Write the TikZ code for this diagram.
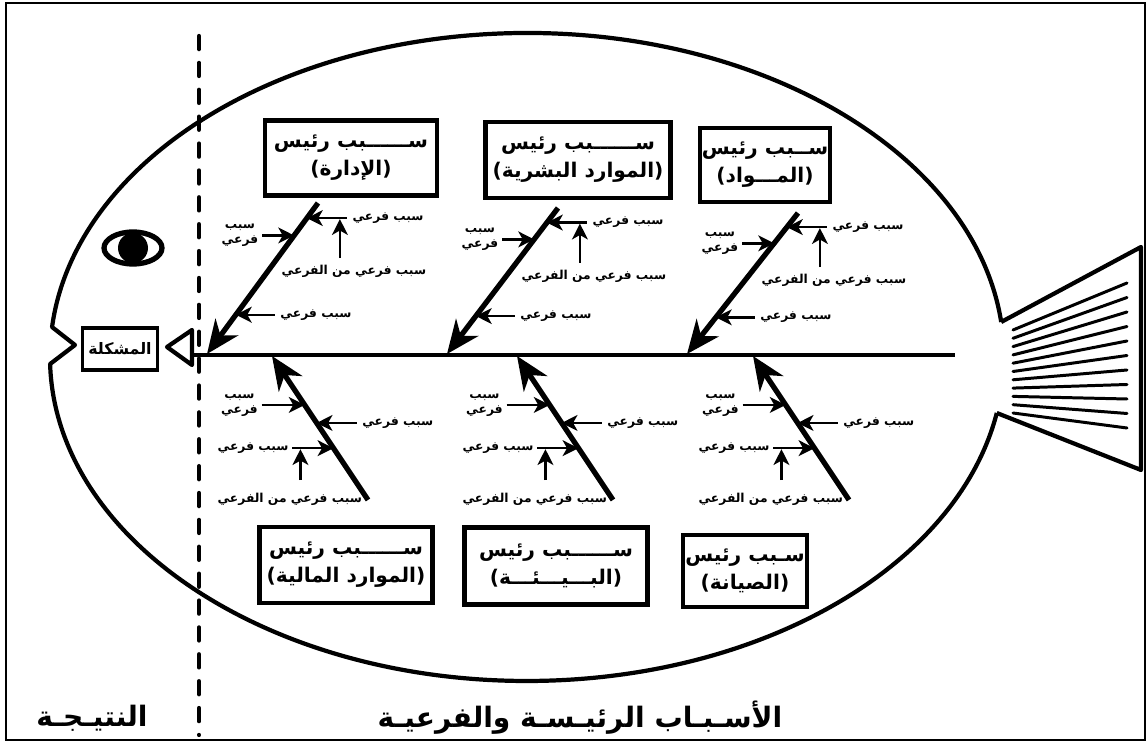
\documentclass[tikz,border=0pt]{standalone}
\usepackage{fontspec}
\newfontfamily\arabicfont[Script=Arabic]{DejaVu Sans}
\TeXXeTstate=1
\usetikzlibrary{arrows.meta,calc,positioning}
\newcommand{\ar}[1]{\beginR #1\endR}
\newcommand{\pxu}{0.569pt}

\tikzset{
  frame/.style={line width=1.1pt},
  body/.style={line width=2.4pt, line join=round},
  spine/.style={line width=2.6pt},
  cut/.style={line width=2.4pt, line cap=round, dash pattern=on 7.5pt off 7.8pt},
  bone/.style={line width=3pt, -{Stealth[length=19pt,width=16pt,inset=6pt]}},
  twig/.style={line width=1.4pt, -{Stealth[length=9pt,width=9pt,inset=2.5pt]}},
  ray/.style={line width=1.7pt, line cap=round},
  causebox/.style={draw, line width=2.4pt, inner sep=1pt, align=center,
    font=\arabicfont\bfseries\fontsize{11.5}{16}\selectfont},
  lbl/.style={inner sep=1pt, align=center,
    font=\arabicfont\bfseries\fontsize{7}{8.5}\selectfont},
  title/.style={font=\arabicfont\bfseries\fontsize{16}{18}\selectfont},
}

\begin{document}
\begin{tikzpicture}[x=0.02cm, y=-0.02cm]
  \useasboundingbox (0,0) rectangle (1147,742);
  \draw[frame] (6,3) rectangle (1145,740);

  % body of the fish, with the mouth notch
  \draw[body] (1001.2,322) arc[start angle=-6.2, end angle=-174.7, x radius=477, y radius=324]
    -- (75,345) -- (50.1,364)
    arc[start angle=178.76, end angle=9.95, x radius=477, y radius=324];
  % tail
  \draw[body] (1001.2,322) -- (1141,247) -- (1141,470) -- (996.8,413);
  \foreach \i in {0,...,10}
    \draw[ray] (1013,330+\i*8.3) -- (1127,283+\i*14.5);

  % eye
  \coordinate (eye) at (133,248);
  \draw[line width=3pt] (eye) ellipse[x radius=29, y radius=16];
  \fill (eye) circle[radius=15];

  % head
  \node[draw, line width=2.2pt, minimum width=75*\pxu, minimum height=42*\pxu,
    font=\arabicfont\bfseries\fontsize{9}{10}\selectfont] (problem) at (120,349) {\ar{المشكلة}};
  \draw[body] (167,347) -- (192,330) -- (192,365) -- cycle;

  % result / causes divider
  \coordinate (cutT) at (199,36);
  \coordinate (cutB) at (199,735);
  \draw[cut] (cutT) -- (cutB);

  % spine
  \coordinate (spineL) at (194,355);
  \coordinate (spineR) at (955,355);
  \draw[spine] (spineL) -- (spineR);

  % main causes
  \node[causebox, minimum width=172*\pxu, minimum height=75*\pxu] (mgmt) at (351,158)
    {\ar{ســــــبب رئيس}\\\ar{(الإدارة)}};
  \node[causebox, minimum width=185*\pxu, minimum height=76*\pxu] (hr) at (578,160)
    {\ar{ســــــبب رئيس}\\\ar{(الموارد البشرية)}};
  \node[causebox, minimum width=125*\pxu, minimum height=74*\pxu] (mat) at (765,165)
    {\ar{ســبب رئيس}\\\ar{(المـــواد)}};
  \node[causebox, minimum width=173*\pxu, minimum height=76*\pxu] (fin) at (346,565)
    {\ar{ســــــبب رئيس}\\\ar{(الموارد المالية)}};
  \node[causebox, minimum width=183*\pxu, minimum height=77*\pxu] (env) at (556,566)
    {\ar{ســــــبب رئيس}\\\ar{(البـــيـــئـــة)}};
  \node[causebox, minimum width=124*\pxu, minimum height=72*\pxu] (mnt) at (745,571)
    {\ar{سـبب رئيس}\\\ar{(الصيانة)}};

  % upper bones
  \foreach \n/\tx/\ty in {1/318/203, 2/558/208, 3/798/213}{
    \coordinate (t\n) at (\tx,\ty);
    \coordinate (e\n) at (\tx-111,354);
    \draw[bone] (t\n) -- (e\n);
    \coordinate (ta\n) at ($(t\n)!0.215!(e\n)$);
    \coordinate (fa\n) at ($(ta\n)+(-32,0)$);
    \draw[twig] (fa\n) -- (ta\n);
    \node[lbl, left=1pt of fa\n] {\ar{سبب}\\\ar{فرعي}};
    \coordinate (tb\n) at ($(t\n)!0.10!(e\n)$);
    \coordinate (fb\n) at ($(tb\n)+(40,0)$);
    \draw[twig] (fb\n) -- (tb\n);
    \node[lbl, right=2pt of fb\n] {\ar{سبب فرعي}};
    \coordinate (vb\n) at ($(tb\n)+(33,40)$);
    \coordinate (vt\n) at ($(tb\n)+(33,1)$);
    \draw[twig] (vb\n) -- (vt\n);
    \node[lbl, anchor=north] at ($(vb\n)+(14,5)$) {\ar{سبب فرعي من الفرعي}};
    \coordinate (tc\n) at ($(t\n)!0.74!(e\n)$);
    \coordinate (fc\n) at ($(tc\n)+(39,0)$);
    \draw[twig] (fc\n) -- (tc\n);
    \node[lbl, right=2pt of fc\n] {\ar{سبب فرعي}};
  }

  % lower bones
  \foreach \n/\px/\py in {4/272/356, 5/517/356, 6/753/356}{
    \coordinate (p\n) at (\px,\py);
    \coordinate (q\n) at (\px+96,500);
    \draw[bone] (q\n) -- (p\n);
    \coordinate (ta\n) at ($(p\n)!0.34!(q\n)$);
    \coordinate (fa\n) at ($(ta\n)+(-43,0)$);
    \draw[twig] (fa\n) -- (ta\n);
    \node[lbl, left=1pt of fa\n] {\ar{سبب}\\\ar{فرعي}};
    \coordinate (tb\n) at ($(p\n)!0.465!(q\n)$);
    \coordinate (fb\n) at ($(tb\n)+(40,0)$);
    \draw[twig] (fb\n) -- (tb\n);
    \node[lbl, right=2pt of fb\n] {\ar{سبب فرعي}};
    \coordinate (tc\n) at ($(p\n)!0.64!(q\n)$);
    \coordinate (fc\n) at ($(tc\n)+(-41,0)$);
    \draw[twig] (fc\n) -- (tc\n);
    \node[lbl, left=1pt of fc\n] {\ar{سبب فرعي}};
    \coordinate (vb\n) at ($(fc\n)+(8,32)$);
    \coordinate (vt\n) at ($(fc\n)+(8,1)$);
    \draw[twig] (vb\n) -- (vt\n);
    \node[lbl, anchor=east] at ($(q\n)+(-4,-1)$) {\ar{سبب فرعي من الفرعي}};
  }

  % bottom captions
  \node[title] (result) at (92,718) {\ar{النتيـجـة}};
  \node[title] (causes) at (580,718) {\ar{الأسـبـاب الرئيـسـة والفرعيـة}};
\end{tikzpicture}
\end{document}
